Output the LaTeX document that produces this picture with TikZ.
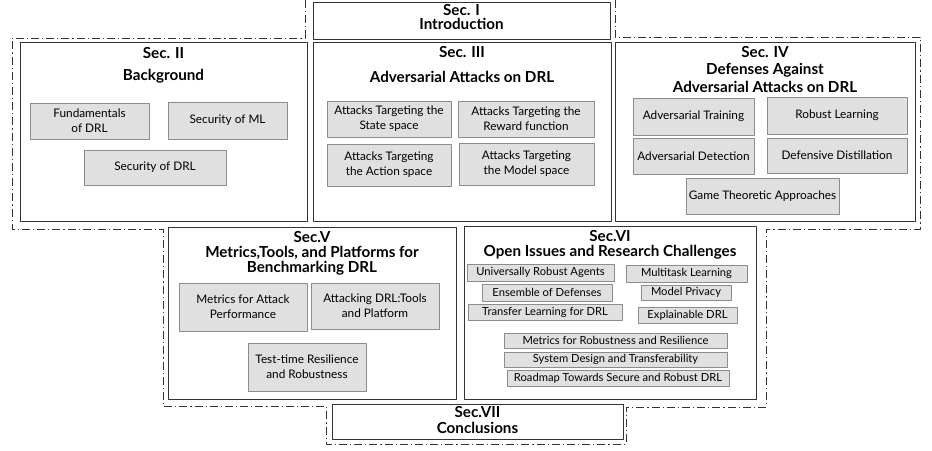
\documentclass[tikz,border=0pt]{standalone}
\usepackage{fontspec}
\setmainfont{Lato}
\begin{document}
\begin{tikzpicture}[x=1pt,y=-1pt,line join=round,
 wh/.style 2 args={minimum width=#1pt,minimum height=#2pt},
 sec/.style={draw=black!80,line width=1pt,inner sep=0pt},
 item/.style={draw=black!45,fill=black!12,line width=1pt,inner sep=0pt,align=center,font=\fontsize{11.8}{15}\selectfont},
 thin/.style={item,font=\fontsize{11.2}{12}\selectfont},
 ttl/.style={font=\bfseries\fontsize{15.2}{#1}\selectfont,align=center,inner sep=0pt},
 outline/.style={draw=black!80,line width=1pt,dash pattern=on 8pt off 3pt on 1.2pt off 3pt}]
 \useasboundingbox (0,0) rectangle (932,450);
 \draw[outline] (305,0)--(305,38)--(12,38)--(12,229)--(163,229)--(163,406)--(326,406)--(326,444)--(626,444)--(626,407)--(766,407)--(766,229)--(920,229)--(920,37)--(615,37)--(615,0);
 \node[sec,wh={297}{37}] (s1) at (461.5,20.5) {};
 \node[sec,wh={287}{179}] (s2) at (163.5,131.5) {};
 \node[sec,wh={298}{179}] (s3) at (462,131.5) {};
 \node[sec,wh={300}{179}] (s4) at (765,131.5) {};
 \node[sec,wh={288}{172}] (s5) at (312,313) {};
 \node[sec,wh={292}{173}] (s6) at (610,312.5) {};
 \node[sec,wh={291}{35}] (s7) at (477.5,421.5) {};
 \node[ttl=14] (t1) at (461.5,17) {Sec. I\\Introduction};
 \node[ttl=15] (t2a) at (163.5,53) {Sec. II};
 \node[ttl=15] (t2b) at (163.5,76) {Background};
 \node[ttl=15] (t3a) at (462,52) {Sec. III};
 \node[ttl=15] (t3b) at (462,77) {Adversarial Attacks on DRL};
 \node[ttl=17.5] (t4) at (765,69.5) {Sec. IV\\Defenses Against\\Adversarial Attacks on DRL};
 \node[ttl=15] (t5) at (312,253) {Sec.V\\Metrics,Tools, and Platforms for\\Benchmarking DRL};
 \node[ttl=14.5] (t6) at (610,245) {Sec.VI\\Open Issues and Research Challenges};
 \node[ttl=16] (t7) at (477.5,420) {Sec.VII\\Conclusions};
 \node[item,wh={119}{36}] (fd) at (89.5,121) {Fundamentals\\of DRL};
 \node[item,wh={119}{37}] (sml) at (227.5,120.5) {Security of ML};
 \node[item,wh={142}{35}] (sdrl) at (155,167.5) {Security of DRL};
 \node[item,wh={124}{36}] (ss) at (389,119) {Attacks Targeting the\\State space};
 \node[item,wh={136}{36}] (rf) at (526,119) {Attacks Targeting the\\Reward function};
 \node[item,wh={124}{42}] (as) at (389,165) {Attacks Targeting\\the Action space};
 \node[item,wh={135}{42}] (ms) at (526.5,164) {Attacks Targeting\\the Model space};
 \node[item,wh={121}{37}] (atr) at (693.5,116.5) {Adversarial Training};
 \node[item,wh={140}{37}] (rl) at (837,115.5) {Robust Learning};
 \node[item,wh={121}{36}] (adt) at (693.5,156) {Adversarial Detection};
 \node[item,wh={140}{35}] (dd) at (837,155.5) {Defensive Distillation};
 \node[item,wh={153}{36}] (gta) at (762.5,196) {Game Theoretic Approaches};
 \node[item,wh={128}{48}] (map) at (243,307) {Metrics for Attack\\Performance};
 \node[item,wh={128}{46}] (adtp) at (375,306) {Attacking DRL:Tools\\and Platform};
 \node[item,wh={118}{48}] (trr) at (307,367) {Test-time Resilience\\and Robustness};
 \node[thin,wh={147}{17}] (ura) at (540.5,272.5) {Universally Robust Agents};
 \node[thin,wh={121}{17}] (mtl) at (686.5,273.5) {Multitask Learning};
 \node[thin,wh={130}{17}] (eod) at (547,292.5) {Ensemble of Defenses};
 \node[thin,wh={90}{15}] (mp) at (686,292.5) {Model Privacy};
 \node[thin,wh={154}{16}] (tl) at (545,312) {Transfer Learning for DRL};
 \node[thin,wh={99}{16}] (xd) at (687.5,315) {Explainable DRL};
 \node[thin,wh={223}{15}] (mrr) at (615.5,340.5) {Metrics for Robustness and Resilience};
 \node[thin,wh={223}{15}] (sdt) at (615.5,359.5) {System Design and Transferability};
 \node[thin,wh={222}{16}] (rm) at (618,378) {Roadmap Towards Secure and Robust DRL};
\end{tikzpicture}
\end{document}
